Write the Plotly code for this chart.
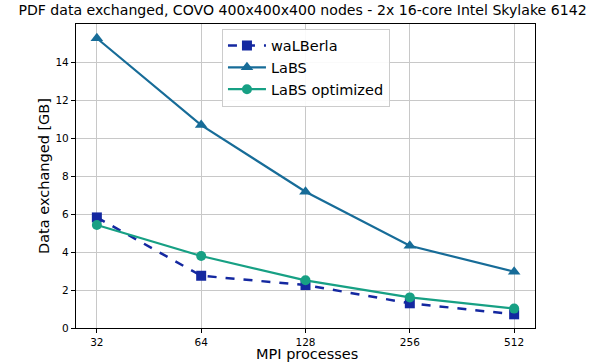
import math
import plotly.graph_objects as go

processes = [32, 64, 128, 256, 512]
walberla = [5.82, 2.75, 2.26, 1.30, 0.72]
labs = [15.25, 10.68, 7.17, 4.33, 2.96]
labs_opt = [5.42, 3.79, 2.51, 1.61, 1.02]
tick_labels = ["32", "64", "128", "256", "512"]
y_ticks = [0, 2, 4, 6, 8, 10, 12, 14]

fig = go.Figure()
fig.add_trace(go.Scatter(x=processes, y=walberla, name="waLBerla", mode="lines+markers",
                         line=dict(color="#1428A0", width=2.5, dash="dash"),
                         marker=dict(symbol="square", size=10, color="#1428A0")))
fig.add_trace(go.Scatter(x=processes, y=labs, name="LaBS", mode="lines+markers",
                         line=dict(color="#176C98", width=2.2),
                         marker=dict(symbol="triangle-up", size=11, color="#176C98")))
fig.add_trace(go.Scatter(x=processes, y=labs_opt, name="LaBS optimized", mode="lines+markers",
                         line=dict(color="#17A084", width=2.2),
                         marker=dict(symbol="circle", size=10, color="#17A084")))

l2 = math.log10(2)
fig.update_layout(
    width=599, height=362,
    margin=dict(l=76, r=64, t=24, b=34, autoexpand=False),
    paper_bgcolor="white", plot_bgcolor="white",
    font=dict(family="DejaVu Sans", color="#000000"),
    title=dict(text="PDF data exchanged, COVO 400x400x400 nodes - 2x 16-core Intel Skylake 6142",
               x=0.505, xanchor="center", y=0.972, yanchor="middle",
               font=dict(size=14.1, color="#000000"), automargin=False),
    xaxis=dict(type="log", range=[4.8 * l2, 9.2 * l2], automargin=False,
               tickvals=processes, ticktext=tick_labels,
               tickfont=dict(size=10.5), ticks="outside", ticklen=4, tickcolor="black",
               showgrid=True, gridcolor="#c8c8c8", gridwidth=1,
               showline=True, linecolor="black", linewidth=1.2, mirror=True,
               zeroline=False),
    yaxis=dict(range=[0, 16], tickvals=y_ticks, automargin=False,
               tickfont=dict(size=10.5), ticks="outside", ticklen=4, tickcolor="black",
               showgrid=True, gridcolor="#c8c8c8", gridwidth=1,
               showline=True, linecolor="black", linewidth=1.2, mirror=True,
               title=dict(text="Data exchanged [GB]", font=dict(size=14.5), standoff=2),
               zeroline=False),
    legend=dict(x=0.318, y=0.985, xanchor="left", yanchor="top",
                bgcolor="rgba(255,255,255,0.9)", bordercolor="#cccccc", borderwidth=1,
                font=dict(size=14.5), tracegroupgap=0, itemwidth=38),
    showlegend=True,
    annotations=[dict(text="MPI processes", xref="paper", yref="paper", x=0.503, y=-0.084,
                      xanchor="center", yanchor="middle", showarrow=False,
                      font=dict(size=14.5, color="#000000"))],
)

fig.write_html("out.html", config={"displayModeBar": False},
               post_script="document.body.style.margin='0';document.body.style.overflow='hidden';")
